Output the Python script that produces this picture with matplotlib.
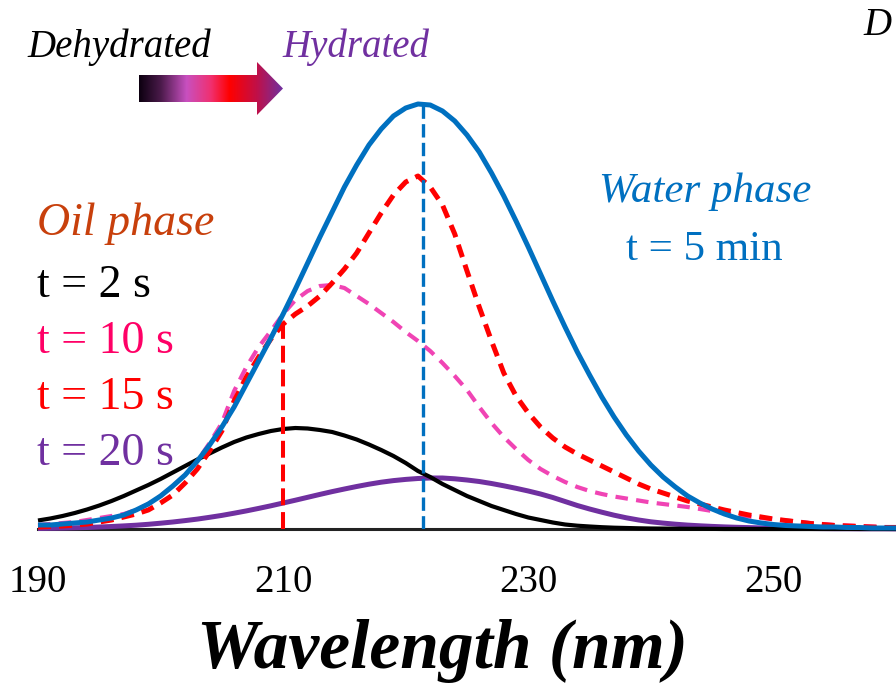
import numpy as np
import matplotlib.pyplot as plt
from matplotlib.colors import LinearSegmentedColormap
from matplotlib.patches import Polygon

plt.rcParams['font.family'] = ['Liberation Serif', 'DejaVu Serif']

# absorbance (a.u.), every 1 nm from 190 to 260 nm
wavelength = np.arange(190, 261)

water_5min = [4, 4, 5, 6, 7, 9, 11, 14, 19, 25,
              33, 43, 54, 68, 84, 102, 122, 145, 168, 191,
              215, 240, 266, 292, 317, 342, 364, 384, 400, 413,
              421, 425, 424, 418, 408, 394, 377, 356, 333, 308,
              282, 255, 228, 202, 177, 154, 132, 112, 94, 78,
              64, 52, 42, 33, 26, 20, 15, 11, 8, 6,
              4.5, 3.5, 3, 2.5, 2, 2, 1.5, 1.5, 1, 1, 1]

oil_2s = [8.5, 10.5, 13, 16, 19.5, 23.5, 28, 33, 38.5, 44,
          50, 56.5, 63, 69.5, 75.5, 81.5, 87, 91.5, 95, 98,
          100, 101, 100.5, 99, 97, 93.5, 89.5, 84.5, 79, 73,
          66, 58, 52, 45, 39, 33, 28, 23, 19, 15,
          11.5, 9, 6.5, 4.5, 3.3, 2.5, 1.8, 1.3, 1, 0.7,
          0.5, 0.4, 0.3, 0.2, 0.2, 0.1, 0, 0, 0, 0,
          0, 0, 0, 0, 0, 0, 0, 0, 0, 0, 0]

oil_10s = [4, 5, 6, 7, 9, 11, 13, 15, 19, 25,
           33, 43, 54, 68, 86, 106, 138, 162, 182, 198,
           215, 229, 238, 243, 244, 241, 233, 225, 216, 207,
           197, 188, 178, 166, 153, 139, 122, 106, 92, 80,
           69, 60, 53, 47, 42, 38, 35, 32.5, 30.5, 28.5,
           26.5, 25, 23.5, 22, 20, 18, 16, 14, 12.5, 11,
           10, 8.5, 7.5, 6, 5, 4, 3.5, 3, 2.5, 2, 2]

oil_15s = [2, 2.5, 3, 4, 5, 7, 9, 12, 15, 19,
           26, 34, 46, 60, 78, 98, 128, 152, 172, 190,
           205, 215, 223, 233, 246, 260, 276, 296, 316, 334,
           347, 353, 342, 324, 295, 258, 222, 188, 156, 133,
           116, 102, 91, 82, 75, 69, 63, 57, 51, 45,
           40, 36, 32, 28, 25, 22, 19, 16.5, 14, 12,
           10, 8.5, 7, 5.5, 4.5, 3.5, 3, 2.5, 2, 1.5, 1.5]

oil_20s = [0.5, 0.7, 0.9, 1.2, 1.5, 2, 2.5, 3.1, 3.8, 4.7,
           5.8, 7, 8.4, 9.9, 11.7, 13.6, 15.8, 18.1, 20.6, 23.2,
           26, 28.8, 31.7, 34.6, 37.4, 40, 42.5, 44.8, 46.8, 48.4,
           49.6, 50.5, 51, 51, 50.2, 49, 47.5, 45.5, 43.2, 40.7,
           38, 35, 31.5, 27.5, 23.5, 20, 16.8, 13.8, 11.2, 9,
           7.2, 5.9, 4.8, 3.9, 3.2, 2.6, 2.1, 1.7, 1.4, 1.1,
           0.9, 0.7, 0.6, 0.5, 0.4, 0.3, 0.3, 0.2, 0.2, 0.2, 0.1]

water_peak_nm = 221.4
oil_shoulder_nm = 210
xticks = [190, 210, 230, 250]

BLUE = '#0070C0'
RED = '#FF0000'
PINK = '#F044B4'
PURPLE = '#7030A0'

fig = plt.figure(figsize=(8.96, 6.84), dpi=100)
ax = fig.add_axes([38 / 896, 155 / 684, 858 / 896, 440 / 684])

ax.plot(wavelength, oil_20s, color=PURPLE, lw=3.6, zorder=3, clip_on=False, solid_capstyle='butt')
ax.plot(wavelength, oil_2s, color='black', lw=3.0, zorder=3.1, clip_on=False, solid_capstyle='butt')
ax.plot(wavelength, oil_10s, color=PINK, lw=3.0, dashes=(3.0, 2.0), zorder=3.2, clip_on=False)
ax.plot(wavelength, oil_15s, color=RED, lw=3.6, dashes=(2.6, 1.6), zorder=3.3, clip_on=False)
ax.plot(wavelength, water_5min, color=BLUE, lw=3.6, zorder=3.4, clip_on=False, solid_capstyle='butt')

ax.vlines(water_peak_nm, 0, max(water_5min), color=BLUE, lw=2.4,
          linestyles=(0, (4.0, 1.6)), zorder=3.5)
red_top = oil_15s[list(wavelength).index(oil_shoulder_nm)]
ax.vlines(oil_shoulder_nm, 0, red_top, color=RED, lw=2.9,
          linestyles=(0, (4.2, 1.7)), zorder=3.5)

ax.set_xlim(190, 260)
ax.set_ylim(0, 440)
ax.set_xticks(xticks)
ax.tick_params(axis='x', length=0, pad=25, labelsize=28)
ax.set_yticks([])
for side in ['top', 'right', 'left']:
    ax.spines[side].set_visible(False)
ax.spines['bottom'].set_linewidth(2.2)
ax.spines['bottom'].set_color('#222222')

# overlay in pixel coordinates for the annotations
ov = fig.add_axes([0, 0, 1, 1], zorder=5)
ov.patch.set_visible(False)

cmap = LinearSegmentedColormap.from_list('hyd', [
    (0.0, '#0c0010'), (0.15, '#4a1a4a'), (0.33, '#C850C0'),
    (0.5, '#F03070'), (0.63, '#FF0000'), (0.82, '#C01048'), (1.0, '#7030A0')])
grad = np.linspace(0, 1, 256).reshape(1, -1)
arrow_pts = [(139, 75), (257, 75), (257, 62), (283, 88.5), (257, 115), (257, 102), (139, 102)]
arrow = Polygon(arrow_pts, closed=True, facecolor='none', edgecolor='none')
ov.add_patch(arrow)
im = ov.imshow(grad, cmap=cmap, aspect='auto', extent=(139, 283, 115, 62))
im.set_clip_path(arrow)

ov.set_xlim(0, 896)
ov.set_ylim(684, 0)
ov.axis('off')

ov.text(27, 57, 'Dehydrated', style='italic', fontsize=28, color='black')
ov.text(282, 57, 'Hydrated', style='italic', fontsize=28, color=PURPLE)
ov.text(863, 35, 'D', style='italic', fontsize=28, color='black')

ov.text(37, 235, 'Oil phase', style='italic', fontsize=33, color='#C8400C')
ov.text(37, 297, 't = 2 s', fontsize=33, color='black')
ov.text(37, 353, 't = 10 s', fontsize=33, color='#FF0066')
ov.text(37, 409, 't = 15 s', fontsize=33, color=RED)
ov.text(37, 465, 't = 20 s', fontsize=33, color=PURPLE)

ov.text(705, 202, 'Water phase', style='italic', fontsize=31, color=BLUE, ha='center')
ov.text(704, 260, 't = 5 min', fontsize=31, color=BLUE, ha='center')

ov.text(442, 668, 'Wavelength (nm)', style='italic', weight='bold', fontsize=50, ha='center')

fig.savefig('out.png', dpi=100)
